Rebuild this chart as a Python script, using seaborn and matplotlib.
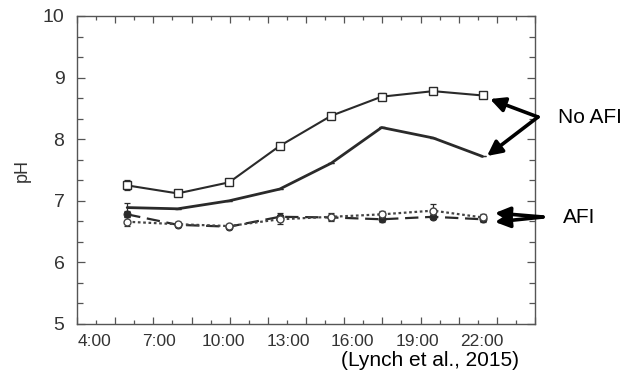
import numpy as np
import pandas as pd
import matplotlib
matplotlib.use("Agg")
import matplotlib.pyplot as plt
from matplotlib.ticker import MultipleLocator, FixedLocator
import seaborn as sns

# Sampling times (hours of day) and mean pH per treatment
hours = [5.5, 7.85, 10.25, 12.6, 15.0, 17.35, 19.75, 22.05]
no_afi_open = [7.25, 7.12, 7.30, 7.89, 8.38, 8.69, 8.78, 8.71]
no_afi_solid = [6.89, 6.87, 7.00, 7.19, 7.61, 8.19, 8.02, 7.72]
afi_filled = [6.78, 6.61, 6.58, 6.74, 6.73, 6.70, 6.74, 6.70]
afi_open = [6.66, 6.62, 6.59, 6.70, 6.74, 6.78, 6.84, 6.73]

err_no_afi_open = [0.08, 0.05, 0.03, 0.04, 0.04, 0.06, 0.04, 0.04]
err_no_afi_solid = [0.07, 0.0, 0.0, 0.0, 0.0, 0.0, 0.0, 0.0]
err_afi_filled = [0.05, 0.04, 0.03, 0.06, 0.04, 0.04, 0.04, 0.04]
err_afi_open = [0.07, 0.03, 0.03, 0.07, 0.06, 0.06, 0.10, 0.05]

tick_hours = [4, 7, 10, 13, 16, 19, 22]
tick_labels = ["4:00", "7:00", "10:00", "13:00", "16:00", "19:00", "22:00"]

sns.set_theme(style="white")
plt.rcParams["font.family"] = ["Liberation Sans", "DejaVu Sans"]

W, H = 627, 383
fig = plt.figure(figsize=(W / 100, H / 100), dpi=100)
ax = fig.add_axes([77 / W, 1 - 324 / H, (535 - 77) / W, (324 - 16) / H])

ink = "#2a2a2a"
spine_c = "#555555"

sns.lineplot(x=hours, y=no_afi_open, ax=ax, color=ink, linewidth=1.5,
             marker="s", markersize=5.5, markerfacecolor="white",
             markeredgecolor=ink, markeredgewidth=1.0)
sns.lineplot(x=hours, y=no_afi_solid, ax=ax, color=ink, linewidth=2.0)
sns.lineplot(x=hours, y=afi_filled, ax=ax, color=ink, linewidth=1.6,
             linestyle=(0, (6, 3)), marker="o", markersize=5,
             markerfacecolor=ink, markeredgecolor=ink)
sns.lineplot(x=hours, y=afi_open, ax=ax, color="#444444", linewidth=1.6,
             linestyle=(0, (1.2, 1.2)), marker="o", markersize=5,
             markerfacecolor="white", markeredgecolor="#444444",
             markeredgewidth=1.0)

for vals, errs in [(no_afi_open, err_no_afi_open), (no_afi_solid, err_no_afi_solid),
                   (afi_filled, err_afi_filled), (afi_open, err_afi_open)]:
    ax.errorbar(hours, vals, yerr=errs, fmt="none", ecolor=ink,
                elinewidth=0.9, capsize=2.5, capthick=0.9, zorder=1)

# axis ranges
x0 = 4 - 18 / 21.47
x1 = 4 + 440 / 21.47
ax.set_xlim(x0, x1)
ax.set_ylim(5, 10)

# y axis ticks
ax.yaxis.set_major_locator(MultipleLocator(1))
ax.yaxis.set_minor_locator(MultipleLocator(1 / 3))
ax.tick_params(axis="y", which="major", direction="in", length=6, width=0.9,
               color=spine_c, left=True, right=True, labelsize=14,
               labelcolor="#333333", pad=9)
ax.tick_params(axis="y", which="minor", direction="in", length=4, width=0.9,
               color=spine_c, left=True, right=True)

# x labels (no tick marks on this axis)
ax.xaxis.set_major_locator(FixedLocator(tick_hours))
ax.set_xticklabels(tick_labels)
ax.tick_params(axis="x", which="both", length=0, labelsize=12.5,
               labelcolor="#333333", pad=7)

for s in ax.spines.values():
    s.set_color(spine_c)
    s.set_linewidth(1.0)

# evenly spaced tick marks along top and bottom
tw = ax.twiny()
tw.set_xlim(0, 12)
tw.xaxis.set_major_locator(MultipleLocator(1))
tw.xaxis.set_minor_locator(MultipleLocator(0.5))
tw.tick_params(axis="x", which="major", direction="in", length=5, width=0.9,
               color=spine_c, top=True, bottom=True, labeltop=False, labelbottom=False)
tw.tick_params(axis="x", which="minor", direction="in", length=3, width=0.9,
               color=spine_c, top=True, bottom=True)
for s in tw.spines.values():
    s.set_visible(False)
tw.grid(False)
ax.grid(False)

def fp(px, py):
    return (px / W, 1 - py / H)

fig.text(22 / W, 1 - 171 / H, "pH", rotation=90, ha="center", va="center",
         fontsize=13, color="#333333")

arrow = dict(arrowstyle="-|>", lw=2.6, color="black", mutation_scale=22,
             shrinkA=0, shrinkB=0)
for tip in [(490, 99), (487, 156)]:
    fig.add_artist(plt.matplotlib.patches.FancyArrowPatch(
        fp(538, 117), fp(*tip), transform=fig.transFigure, **arrow))
for tip in [(495, 213), (495, 222)]:
    fig.add_artist(plt.matplotlib.patches.FancyArrowPatch(
        fp(543, 217), fp(*tip), transform=fig.transFigure, **arrow))

fig.text(558 / W, 1 - 117 / H, "No AFI", ha="left", va="center", fontsize=15, color="black")
fig.text(563 / W, 1 - 217 / H, "AFI", ha="left", va="center", fontsize=15, color="black")
fig.text(430 / W, 1 - 360 / H, "(Lynch et al., 2015)", ha="center", va="center",
         fontsize=15, color="black")

fig.savefig("out.png", dpi=100)
